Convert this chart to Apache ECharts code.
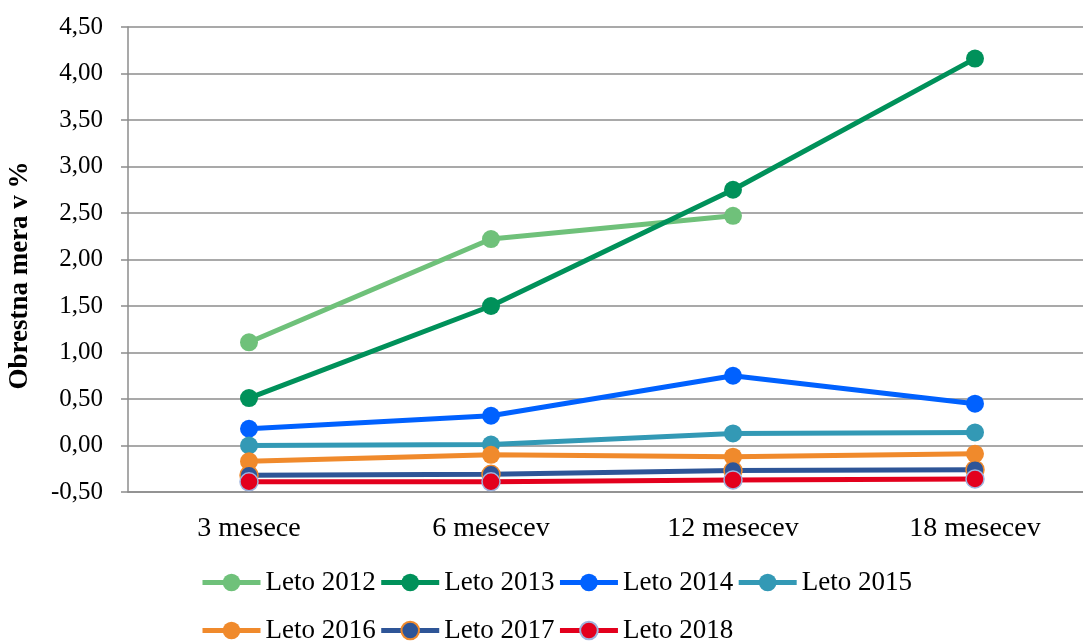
<!DOCTYPE html>
<html>
<head>
<meta charset="utf-8">
<script src="https://cdn.jsdelivr.net/npm/echarts@6/dist/echarts.min.js"></script>
<style>
  html, body { margin: 0; padding: 0; background: #fff; }
  #chart { width: 1083px; height: 642px; }
</style>
</head>
<body>
<div id="chart"></div>
<script>
// Ročnosti (kategorije na osi x)
const categories = ['3 mesece', '6 mesecev', '12 mesecev', '18 mesecev'];

// Obrestne mere po letih izdaje (v %)
const leto2012 = [1.11, 2.22, 2.47, null];
const leto2013 = [0.51, 1.50, 2.75, 4.16];
const leto2014 = [0.18, 0.32, 0.75, 0.45];
const leto2015 = [0.00, 0.01, 0.13, 0.14];
const leto2016 = [-0.17, -0.10, -0.12, -0.09];
const leto2017 = [-0.32, -0.31, -0.27, -0.26];
const leto2018 = [-0.39, -0.39, -0.37, -0.36];

const seriesNames = ['Leto 2012', 'Leto 2013', 'Leto 2014', 'Leto 2015', 'Leto 2016', 'Leto 2017', 'Leto 2018'];
const seriesValues = [leto2012, leto2013, leto2014, leto2015, leto2016, leto2017, leto2018];
const lineColors = ['#6fc17a', '#00915a', '#0061ff', '#3399b5', '#f08a2c', '#2e5597', '#e3001d'];
const markerBorders = [null, null, null, null, null, '#f08a2c', '#9fb3dd'];

const FONT = '"Liberation Serif", "Times New Roman", serif';

const chart = echarts.init(document.getElementById('chart'), null, { renderer: 'canvas' });

const series = seriesNames.map((name, i) => ({
  name: name,
  type: 'line',
  data: seriesValues[i],
  symbol: 'circle',
  symbolSize: 18,
  connectNulls: false,
  lineStyle: { color: lineColors[i], width: 5 },
  itemStyle: {
    color: lineColors[i],
    borderColor: markerBorders[i] || lineColors[i],
    borderWidth: markerBorders[i] ? 1.5 : 0
  },
  emphasis: { disabled: true },
  animation: false
}));

const legendBase = {
  orient: 'horizontal',
  padding: 0,
  itemWidth: 58,
  itemHeight: 22,
  itemGap: 3,
  lineStyle: { width: 5 },
  textStyle: { fontFamily: FONT, fontSize: 27, color: '#000' }
};

chart.setOption({
  backgroundColor: '#fff',
  animation: false,
  grid: { left: 128, top: 27, width: 968, height: 465, containLabel: false, outerBoundsMode: 'none' },
  legend: [
    Object.assign({}, legendBase, { data: seriesNames.slice(0, 4), left: 200, top: 569 }),
    Object.assign({}, legendBase, { data: seriesNames.slice(4), left: 200, top: 617 })
  ],
  xAxis: {
    type: 'category',
    data: categories,
    boundaryGap: true,
    axisLine: { onZero: false, lineStyle: { color: '#8c8c8c', width: 1.5 } },
    axisTick: { show: false },
    axisLabel: { fontFamily: FONT, fontSize: 28, color: '#000', margin: 23 },
    splitLine: { show: false }
  },
  yAxis: {
    type: 'value',
    min: -0.5,
    max: 4.5,
    interval: 0.5,
    name: 'Obrestna mera v %',
    nameLocation: 'middle',
    nameRotate: 90,
    nameGap: 94,
    nameTextStyle: {
      fontFamily: FONT, fontSize: 27, fontWeight: 'bold', color: '#000',
      padding: [0, 32, 0, 0]
    },
    axisLine: { show: true, lineStyle: { color: '#8c8c8c', width: 1.5 } },
    axisTick: { show: true, length: 7, lineStyle: { color: '#8c8c8c', width: 1.5 } },
    axisLabel: {
      fontFamily: FONT, fontSize: 25, color: '#000', margin: 25,
      formatter: v => v.toFixed(2).replace('.', ',')
    },
    splitLine: { show: true, lineStyle: { color: '#8c8c8c', width: 1.5 } }
  },
  series: series
});
</script>
</body>
</html>
